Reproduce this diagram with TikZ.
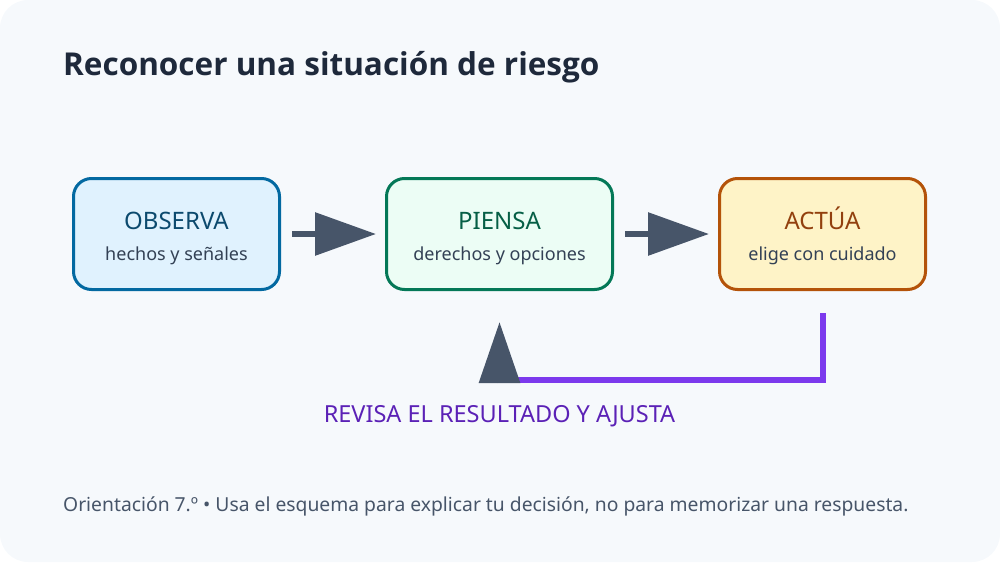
\documentclass[tikz,border=0pt]{standalone}
\usepackage{fontspec}
\setmainfont{Noto Sans}
\newfontfamily\headfont{Open Sans}
\usetikzlibrary{arrows.meta, calc, positioning}

\definecolor{bgcol}{HTML}{F6F9FC}
\definecolor{inkdark}{HTML}{1E293B}
\definecolor{inksub}{HTML}{334155}
\definecolor{slate}{HTML}{475569}
\definecolor{obsfill}{HTML}{E0F2FE}
\definecolor{obsline}{HTML}{0369A1}
\definecolor{obstext}{HTML}{0C4A6E}
\definecolor{pienfill}{HTML}{ECFDF5}
\definecolor{pienline}{HTML}{047857}
\definecolor{pientext}{HTML}{065F46}
\definecolor{actfill}{HTML}{FEF3C7}
\definecolor{actline}{HTML}{B45309}
\definecolor{acttext}{HTML}{92400E}
\definecolor{violetline}{HTML}{7C3AED}
\definecolor{violettext}{HTML}{5B21B6}

\tikzset{
  stepbox/.style={draw, line width=3pt, rounded corners=18pt,
    minimum width=206pt, minimum height=111pt, inner sep=0pt},
  steptitle/.style={anchor=base, inner sep=0pt, font=\fontsize{24}{28}\selectfont},
  stepsub/.style={anchor=base, inner sep=0pt, text=inksub, font=\fontsize{18}{22}\selectfont},
  flow/.style={draw=slate, line width=6pt,
    -{Triangle[length=61pt, width=42pt]}, shorten <=11pt, shorten >=9pt},
  loopline/.style={draw=violetline, line width=6pt, line join=miter},
  backtip/.style={draw=slate, line width=6pt, -{Triangle[length=61pt, width=40pt]}}
}

\begin{document}
\begin{tikzpicture}[x=1pt, y=-1pt]
  \useasboundingbox (0,0) rectangle (1000,562);
  \fill[bgcol, rounded corners=28pt] (0,0) rectangle (1000,562);

  \node[anchor=base west, inner sep=0pt, text=inkdark, font=\headfont\bfseries\fontsize{31.5}{37}\selectfont]
    (title) at (63,75) {Reconocer una situación de riesgo};

  % the three steps
  \node[stepbox, draw=obsline, fill=obsfill] (obs) at (176.5,234) {};
  \node[stepbox, draw=pienline, fill=pienfill, minimum width=226pt] (pien) at (499.5,234) {};
  \node[stepbox, draw=actline, fill=actfill] (act) at (822.5,234) {};

  \node[steptitle, text=obstext] (obst) at ($(obs.center)+(0,-5)$) {OBSERVA};
  \node[stepsub] (obss) at ($(obs.center)+(0,26)$) {hechos y señales};
  \node[steptitle, text=pientext] (pient) at ($(pien.center)+(0,-5)$) {PIENSA};
  \node[stepsub] (piens) at ($(pien.center)+(0,26)$) {derechos y opciones};
  \node[steptitle, text=acttext] (actt) at ($(act.center)+(0,-5)$) {ACTÚA};
  \node[stepsub] (acts) at ($(act.center)+(0,26)$) {elige con cuidado};

  \draw[flow] (obs) -- (pien);
  \draw[flow] (pien) -- (act);

  % way back
  \coordinate (actout) at ($(act.south)+(0,22)$);
  \coordinate (retturn) at ($(pien.south)+(0,89)$);
  \coordinate (pienin) at ($(pien.south)+(0,31)$);
  \draw[loopline] (actout) |- (retturn);
  \draw[backtip] ($(retturn)+(0,3)$) -- (pienin);

  \node[anchor=base, inner sep=0pt, text=violettext, font=\fontsize{23.5}{28}\selectfont]
    (revisa) at ($(retturn)+(0,42)$) {REVISA EL RESULTADO Y AJUSTA};

  \node[anchor=base west, inner sep=0pt, text=slate, font=\fontsize{19.3}{23}\selectfont]
    (foot) at (63,511) {Orientación 7.º • Usa el esquema para explicar tu decisión, no para memorizar una respuesta.};
\end{tikzpicture}
\end{document}
